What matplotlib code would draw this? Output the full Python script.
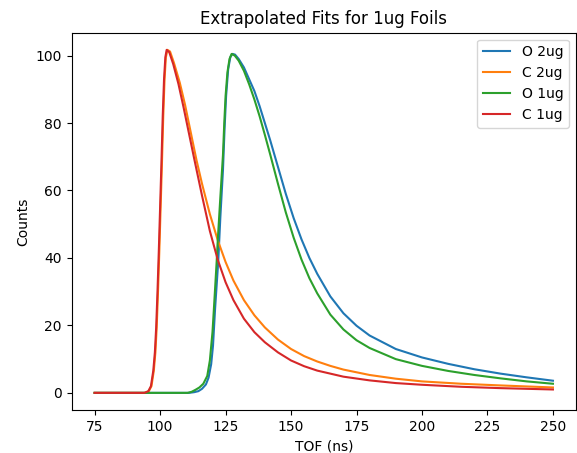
import matplotlib
matplotlib.use("Agg")
import matplotlib.pyplot as plt

# O 2ug (blue)
tof_o2 = [75, 105, 111, 113, 114.6, 116, 117.5, 118.5, 119.5, 120.2, 121, 121.6, 122.2, 123,
          124, 124.6, 125.2, 126, 126.8, 127.6, 128.6, 130, 132, 134, 136, 138, 140, 142,
          145, 148, 151, 154, 157, 160, 165, 170, 175, 180, 190, 200, 210, 220, 230, 240, 250]
o2 = [0, 0, 0, 0.2, 0.5, 1.2, 2.5, 4.5, 8.5, 14, 25, 32, 39, 52,
      66, 78, 88, 96, 99.5, 100.5, 100.3, 99, 96.5, 93, 89.5, 85, 80, 75,
      67, 59, 51.8, 45.5, 40, 35.3, 28.6, 23.6, 19.9, 17.0, 13.0, 10.5, 8.6, 7.0, 5.7, 4.6, 3.6]

# C 2ug (orange)
tof_c2 = [75, 90, 94.2, 95.7, 96.7, 97.6, 98.2, 98.7, 99.2, 99.7, 100.2, 100.7, 101.2, 101.7,
          102.2, 102.8, 103.8, 105.3, 107.5, 109.5, 111.5, 113.9, 116, 119, 122, 125, 128,
          132, 136, 140, 145, 150, 155, 160, 165, 170, 180, 190, 200, 215, 230, 250]
c2 = [0, 0, 0, 0.5, 2, 6.6, 12, 19.4, 30, 42, 55, 68, 82, 93,
      99.5, 101.7, 101.2, 97.8, 92, 85.5, 78, 69, 62, 53, 45.3, 38.8, 33.3,
      27.5, 23, 19.4, 15.8, 13, 10.9, 9.3, 8.0, 6.9, 5.3, 4.2, 3.4, 2.7, 2.2, 1.6]

# O 1ug (green)
tof_o1 = [75, 105, 110.5, 112, 113.5, 115, 116.5, 118, 119, 120, 120.5, 121, 121.6, 122, 123,
          124, 124.5, 125, 125.7, 126.5, 127.3, 128.5, 130, 132, 134, 136, 138, 140, 142,
          145, 148, 151, 154, 157, 160, 165, 170, 175, 180, 190, 200, 210, 220, 230, 240, 250]
o1 = [0, 0, 0, 0.3, 0.9, 1.6, 2.7, 5, 9.6, 18, 24.4, 31, 39, 45, 58,
      70.5, 80, 88, 95, 99, 100.5, 100, 98.5, 95.5, 91.5, 87, 82, 76.5, 70.8,
      62, 53.5, 46, 39.5, 34, 29.5, 23.2, 18.8, 15.6, 13.3, 10.0, 8.0, 6.5, 5.3, 4.3, 3.4, 2.7]

# C 1ug (red)
tof_c1 = [75, 90, 94, 95.5, 96.5, 97.4, 98.0, 98.5, 99.0, 99.5, 100.0, 100.5, 101.0, 101.5,
          102.0, 102.5, 103.5, 105, 107, 109, 111, 113, 116, 119, 122, 125, 128,
          132, 136, 140, 145, 150, 155, 160, 170, 180, 190, 200, 215, 230, 250]
c1 = [0, 0, 0, 0.5, 2, 6.6, 12, 19.4, 30, 42, 55, 68, 82, 93,
      99.5, 101.7, 101, 97.5, 91.6, 84.5, 77, 69.5, 58.5, 48, 39.5, 32.8, 27.5,
      22, 18, 15, 12, 9.6, 7.9, 6.6, 4.8, 3.7, 2.9, 2.4, 1.8, 1.4, 1.0]

fig = plt.figure(figsize=(5.77, 4.53), dpi=100)
ax = fig.add_axes([0.1243, 0.0949, 0.8737, 0.8329])
ax.plot(tof_o2, o2, label="O 2ug")
ax.plot(tof_c2, c2, label="C 2ug")
ax.plot(tof_o1, o1, label="O 1ug")
ax.plot(tof_c1, c1, label="C 1ug")
ax.set_title("Extrapolated Fits for 1ug Foils")
ax.set_xlabel("TOF (ns)")
ax.set_ylabel("Counts")
ax.legend(loc="upper right")
fig.savefig("out.png", dpi=100)
